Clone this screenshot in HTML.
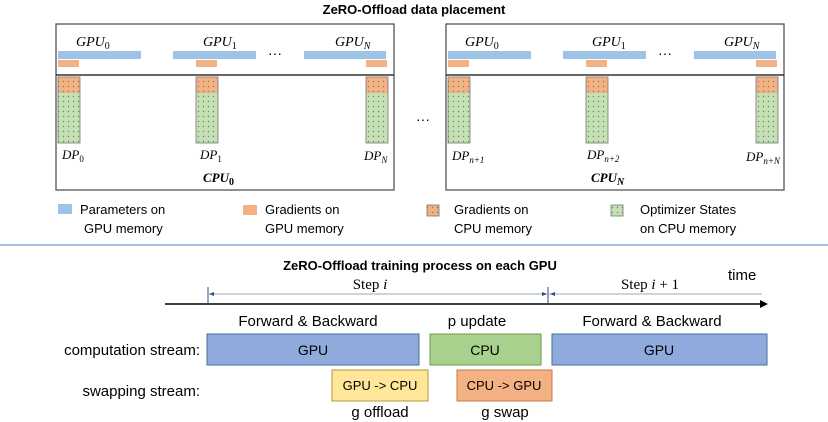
<!DOCTYPE html>
<html><head><meta charset="utf-8"><style>
html,body{margin:0;padding:0;background:#fff;}
svg{display:block;}
text{font-family:"Liberation Sans",sans-serif;}
.it{font-family:"Liberation Serif",serif;font-style:italic;}
.st{font-family:"Liberation Serif",serif;font-style:normal;}
</style></head><body>
<svg width="828" height="422" viewBox="0 0 828 422" xmlns="http://www.w3.org/2000/svg">
<defs>
<pattern id="dots" width="5" height="5" patternUnits="userSpaceOnUse"><circle cx="2.5" cy="2.5" r="0.7" fill="#6a8a5a"/></pattern>
<g id="panel">
 <rect x="0" y="0" width="338" height="166" fill="#fff" stroke="#555" stroke-width="1.3"/>
 <line x1="0" y1="51" x2="338" y2="51" stroke="#333" stroke-width="1.5"/>
 <rect x="2" y="27" width="83" height="8" fill="#9dc3e6"/>
 <rect x="117" y="27" width="83" height="8" fill="#9dc3e6"/>
 <rect x="248" y="27" width="82" height="8" fill="#9dc3e6"/>
 <rect x="2" y="36" width="21" height="7" fill="#f4b183"/>
 <rect x="140" y="36" width="21" height="7" fill="#f4b183"/>
 <rect x="310" y="36" width="21" height="7" fill="#f4b183"/>
 <text x="219" y="34" font-size="14" text-anchor="middle">···</text>
 <g>
  <rect x="2" y="53" width="22" height="16" fill="#f4b183"/><rect x="2" y="69" width="22" height="50" fill="#c5e0b4"/>
  <rect x="2" y="53" width="22" height="66" fill="url(#dots)" stroke="#777" stroke-width="0.8"/>
  <rect x="140" y="53" width="22" height="16" fill="#f4b183"/><rect x="140" y="69" width="22" height="50" fill="#c5e0b4"/>
  <rect x="140" y="53" width="22" height="66" fill="url(#dots)" stroke="#777" stroke-width="0.8"/>
  <rect x="310" y="53" width="22" height="16" fill="#f4b183"/><rect x="310" y="69" width="22" height="50" fill="#c5e0b4"/>
  <rect x="310" y="53" width="22" height="66" fill="url(#dots)" stroke="#777" stroke-width="0.8"/>
 </g>
</g>
</defs>
<text x="414" y="14" font-size="13" font-weight="bold" text-anchor="middle">ZeRO-Offload data placement</text>
<use href="#panel" x="56" y="24"/>
<use href="#panel" x="446" y="24"/>
<text class="it" x="76" y="46" font-size="14">GPU<tspan font-size="10" dy="3" style="font-style:normal">0</tspan></text>
<text class="it" x="203" y="46" font-size="14">GPU<tspan font-size="10" dy="3" style="font-style:normal">1</tspan></text>
<text class="it" x="335" y="46" font-size="14">GPU<tspan font-size="10" dy="3">N</tspan></text>
<text class="it" x="62" y="159" font-size="13">DP<tspan font-size="9" dy="3" style="font-style:normal">0</tspan></text>
<text class="it" x="200" y="159" font-size="13">DP<tspan font-size="9" dy="3" style="font-style:normal">1</tspan></text>
<text class="it" x="364" y="160" font-size="13">DP<tspan font-size="9" dy="3">N</tspan></text>
<text class="it" x="203" y="182" font-size="13" font-weight="bold">CPU<tspan font-size="10" dy="3" style="font-style:normal">0</tspan></text>
<text x="423" y="124" font-size="14" text-anchor="middle">···</text>
<text class="it" x="465" y="46" font-size="14">GPU<tspan font-size="10" dy="3" style="font-style:normal">0</tspan></text>
<text class="it" x="592" y="46" font-size="14">GPU<tspan font-size="10" dy="3" style="font-style:normal">1</tspan></text>
<text class="it" x="724" y="46" font-size="14">GPU<tspan font-size="10" dy="3">N</tspan></text>
<text class="it" x="452" y="160" font-size="13">DP<tspan font-size="9" dy="3">n+1</tspan></text>
<text class="it" x="587" y="159" font-size="13">DP<tspan font-size="9" dy="3">n+2</tspan></text>
<text class="it" x="746" y="161" font-size="13">DP<tspan font-size="9" dy="3">n+N</tspan></text>
<text class="it" x="591" y="182" font-size="13" font-weight="bold">CPU<tspan font-size="10" dy="3">N</tspan></text>
<rect x="58" y="204" width="14" height="10" fill="#9dc3e6"/>
<text x="80" y="214" font-size="13">Parameters on</text><text x="84" y="233" font-size="13">GPU memory</text>
<rect x="243" y="205" width="14" height="10" fill="#f4b183"/>
<text x="265" y="214" font-size="13">Gradients on</text><text x="265" y="233" font-size="13">GPU memory</text>
<rect x="427" y="205" width="12" height="11" fill="#f4b183" stroke="#777" stroke-width="0.8"/><rect x="427" y="205" width="12" height="11" fill="url(#dots)"/>
<text x="454" y="214" font-size="13">Gradients on</text><text x="454" y="233" font-size="13">CPU memory</text>
<rect x="611" y="205" width="12" height="11" fill="#c5e0b4" stroke="#777" stroke-width="0.8"/><rect x="611" y="205" width="12" height="11" fill="url(#dots)"/>
<text x="640" y="214" font-size="13">Optimizer States</text><text x="640" y="233" font-size="13">on CPU memory</text>
<line x1="0" y1="245" x2="828" y2="245" stroke="#8faadc" stroke-width="1.5"/>
<text x="420" y="270" font-size="13" font-weight="bold" text-anchor="middle">ZeRO-Offload training process on each GPU</text>
<text x="728" y="280" font-size="15">time</text>
<line x1="165" y1="304" x2="762" y2="304" stroke="#000" stroke-width="1.5"/>
<polygon points="768,304 760,300 760,308" fill="#000"/>
<line x1="208" y1="287" x2="208" y2="303" stroke="#2f4f7f"/>
<line x1="548" y1="287" x2="548" y2="303" stroke="#2f4f7f"/>
<line x1="208" y1="294" x2="548" y2="294" stroke="#9aa9c6"/>
<polygon points="209,294 214,292 214,296" fill="#2f4f7f"/><polygon points="547,294 542,292 542,296" fill="#2f4f7f"/>
<line x1="549" y1="294" x2="762" y2="294" stroke="#9aa9c6"/>
<polygon points="550,294 555,292 555,296" fill="#2f4f7f"/>
<text class="st" x="370" y="289" font-size="15" text-anchor="middle">Step <tspan style="font-style:italic">i</tspan></text>
<text class="st" x="650" y="289" font-size="15" text-anchor="middle">Step <tspan style="font-style:italic">i</tspan> + 1</text>
<text x="308" y="326" font-size="15" text-anchor="middle">Forward &amp; Backward</text>
<text x="477" y="326" font-size="15" text-anchor="middle">p update</text>
<text x="652" y="326" font-size="15" text-anchor="middle">Forward &amp; Backward</text>
<text x="200" y="355" font-size="15" text-anchor="end">computation stream:</text>
<text x="200" y="396" font-size="15" text-anchor="end">swapping stream:</text>
<rect x="207" y="334" width="212" height="31" fill="#8faadc" stroke="#41719c"/>
<text x="313" y="355" font-size="14" text-anchor="middle">GPU</text>
<rect x="430" y="334" width="111" height="31" fill="#a9d18e" stroke="#6a9a4f"/>
<text x="485" y="355" font-size="14" text-anchor="middle">CPU</text>
<rect x="552" y="334" width="215" height="31" fill="#8faadc" stroke="#41719c"/>
<text x="659" y="355" font-size="14" text-anchor="middle">GPU</text>
<rect x="332" y="370" width="96" height="31" fill="#ffe699" stroke="#b59a3b"/>
<text x="380" y="390" font-size="13" text-anchor="middle">GPU -&gt; CPU</text>
<rect x="457" y="370" width="95" height="31" fill="#f4b183" stroke="#c07a4a"/>
<text x="504" y="390" font-size="13" text-anchor="middle">CPU -&gt; GPU</text>
<text x="380" y="417" font-size="15" text-anchor="middle">g offload</text>
<text x="505" y="417" font-size="15" text-anchor="middle">g swap</text>
</svg>
</body></html>
